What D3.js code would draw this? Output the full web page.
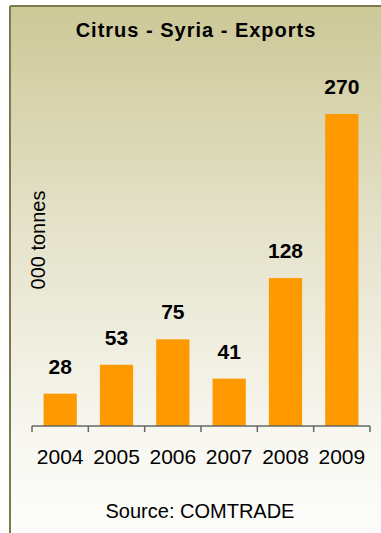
<!DOCTYPE html>
<html>
<head>
<meta charset="utf-8">
<script src="https://cdn.jsdelivr.net/npm/d3@7"></script>
<style>
  html, body { margin: 0; padding: 0; background: #ffffff; }
  svg { display: block; font-family: Arial, "Liberation Sans", Helvetica, sans-serif; }
</style>
</head>
<body>
<svg id="chart" width="381" height="533"></svg>
<script>
// Citrus exports from Syria, thousand tonnes
const years = ["2004", "2005", "2006", "2007", "2008", "2009"];
const exportsKt = [28, 53, 75, 41, 128, 270];
const titleText = "Citrus - Syria - Exports";
const yAxisLabel = "000 tonnes";
const sourceText = "Source: COMTRADE";

const W = 381, H = 533;
const svg = d3.select("#chart");

// panel background with vertical gradient
const defs = svg.append("defs");
const grad = defs.append("linearGradient")
  .attr("id", "bg").attr("x1", 0).attr("y1", 0).attr("x2", 0).attr("y2", 1);
grad.append("stop").attr("offset", "0%").attr("stop-color", "#cdc897");
grad.append("stop").attr("offset", "45%").attr("stop-color", "#e6e4cd");
grad.append("stop").attr("offset", "80%").attr("stop-color", "#f7f6ef");
grad.append("stop").attr("offset", "100%").attr("stop-color", "#fdfdfb");

svg.append("rect")
  .attr("x", 10).attr("y", 6)
  .attr("width", W - 10).attr("height", H - 6)
  .attr("fill", "url(#bg)");

// frame: top and left edges
svg.append("line")
  .attr("x1", 10).attr("y1", 6).attr("x2", W).attr("y2", 6)
  .attr("stroke", "#7c7a4e").attr("stroke-width", 2);
svg.append("line")
  .attr("x1", 10).attr("y1", 6).attr("x2", 10).attr("y2", H)
  .attr("stroke", "#7c7a4e").attr("stroke-width", 2);

// scales
const x = d3.scaleBand()
  .domain(years)
  .range([32, 370])
  .paddingInner(0.41)
  .paddingOuter(0.205);

const y = d3.scaleLinear()
  .domain([0, 270])
  .range([426, 114]);

// bars
svg.append("g").selectAll("rect")
  .data(years.map((yr, i) => ({ yr, v: exportsKt[i] })))
  .join("rect")
  .attr("x", d => x(d.yr))
  .attr("y", d => y(d.v))
  .attr("width", x.bandwidth())
  .attr("height", d => y(0) - y(d.v))
  .attr("fill", "#ff9900");

// value labels
svg.append("g").selectAll("text")
  .data(years.map((yr, i) => ({ yr, v: exportsKt[i] })))
  .join("text")
  .attr("x", d => x(d.yr) + x.bandwidth() / 2)
  .attr("y", d => y(d.v) - 20)
  .attr("text-anchor", "middle")
  .attr("font-size", 21)
  .attr("font-weight", "bold")
  .attr("fill", "#000")
  .text(d => d.v);

// x axis: baseline with ticks at category boundaries
const step = x.step();
const x0 = x.range()[0];
const axis = svg.append("g");
axis.append("line")
  .attr("x1", x0).attr("x2", x.range()[1])
  .attr("y1", y(0)).attr("y2", y(0))
  .attr("stroke", "#666").attr("stroke-width", 1.5);
axis.selectAll("line.tick")
  .data(d3.range(years.length + 1))
  .join("line")
  .attr("class", "tick")
  .attr("x1", i => x0 + i * step).attr("x2", i => x0 + i * step)
  .attr("y1", y(0)).attr("y2", y(0) + 6)
  .attr("stroke", "#666").attr("stroke-width", 1.5);
axis.selectAll("text")
  .data(years)
  .join("text")
  .attr("x", d => x(d) + x.bandwidth() / 2)
  .attr("y", 464)
  .attr("text-anchor", "middle")
  .attr("font-size", 21)
  .attr("fill", "#000")
  .text(d => d);

// title
svg.append("text")
  .attr("x", 196).attr("y", 37)
  .attr("text-anchor", "middle")
  .attr("font-size", 20)
  .attr("font-weight", "bold")
  .attr("letter-spacing", 1)
  .attr("fill", "#000")
  .text(titleText);

// y axis label
svg.append("text")
  .attr("transform", "translate(45,240) rotate(-90)")
  .attr("text-anchor", "middle")
  .attr("font-size", 20)
  .attr("fill", "#000")
  .text(yAxisLabel);

// source note
svg.append("text")
  .attr("x", 200).attr("y", 518)
  .attr("text-anchor", "middle")
  .attr("font-size", 20)
  .attr("fill", "#000")
  .text(sourceText);
</script>
</body>
</html>
